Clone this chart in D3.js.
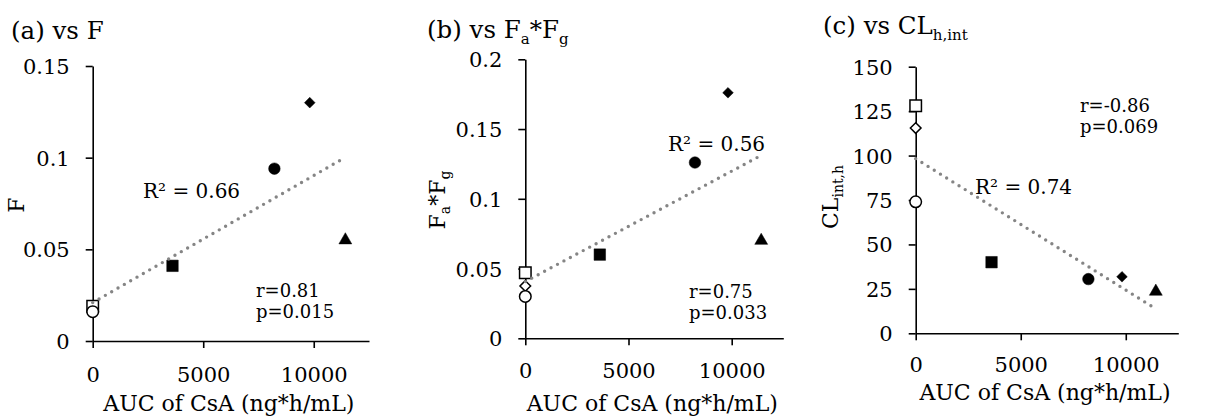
<!DOCTYPE html>
<html>
<head>
<meta charset="utf-8">
<script src="https://cdn.jsdelivr.net/npm/d3@7"></script>
<style>
  html, body { margin: 0; padding: 0; background: #fff; }
  svg { display: block; }
  text { font-family: "DejaVu Serif", "Liberation Serif", serif; fill: #000; }
</style>
</head>
<body>
<svg id="chart" width="1213" height="416"></svg>
<script>
// ---------- data ----------
const markerTypes = ["openSquare", "openDiamond", "openCircle", "square", "circle", "diamond", "triangle"];
const aucCsA = [0, 0, 0, 3610, 8220, 9820, 11430];
const valuesF = [0.019, null, 0.016, 0.041, 0.094, 0.130, 0.055];
const valuesFaFg = [0.047, 0.0375, 0.030, 0.060, 0.126, 0.176, 0.070];
const valuesCLint = [128, 115.5, 74, 40, 30.5, 31.8, 23.5];
const xTicks = [0, 5000, 10000];
const yTicksA = [0, 0.05, 0.1, 0.15];
const yTicksB = [0, 0.05, 0.1, 0.15, 0.2];
const yTicksC = [0, 25, 50, 75, 100, 125, 150];
const statsA = ["r=0.81", "p=0.015"];
const statsB = ["r=0.75", "p=0.033"];
const statsC = ["r=-0.86", "p=0.069"];
const r2A = "R² = 0.66", r2B = "R² = 0.56", r2C = "R² = 0.74";
const xMax = 12500;

// ---------- layout ----------
const panels = [
  { values: valuesF, yTicks: yTicksA, yMax: 0.15, x0: 92.7, x1: 369, y0: 341, y1: 66,
    title: [["(a) vs F", null]], titleX: 11, titleY: 39,
    ylab: [["F", null]], ylabX: 24, ylabY: 205,
    xlabY: 411, tickLabY: 382,
    r2: r2A, r2X: 143, r2Y: 198,
    stats: statsA, statsX: 256, statsY: 297 },
  { values: valuesFaFg, yTicks: yTicksB, yMax: 0.2, x0: 525.3, x1: 783.3, y0: 338.3, y1: 59.3,
    title: [["(b) vs F", null], ["a", "sub"], ["*F", null], ["g", "sub"]], titleX: 427, titleY: 38,
    ylab: [["F", null], ["a", "sub"], ["*F", null], ["g", "sub"]], ylabX: 445, ylabY: 200,
    xlabY: 411, tickLabY: 378,
    r2: r2B, r2X: 668, r2Y: 151,
    stats: statsB, statsX: 689, statsY: 298 },
  { values: valuesCLint, yTicks: yTicksC, yMax: 150, x0: 915.7, x1: 1178.3, y0: 333.3, y1: 66.7,
    title: [["(c) vs CL", null], ["h,int", "sub"]], titleX: 823, titleY: 34,
    ylab: [["CL", null], ["int,h", "sub"]], ylabX: 838, ylabY: 197,
    xlabY: 400, tickLabY: 372,
    r2: r2C, r2X: 975, r2Y: 194,
    stats: statsC, statsX: 1080, statsY: 112 }
];

const svg = d3.select("#chart");

function richText(sel, parts, subSize, shift) {
  let inSub = false;
  parts.forEach(([t, kind]) => {
    const ts = sel.append("tspan").text(t);
    if (kind === "sub") {
      ts.attr("font-size", subSize).attr("dy", shift);
      inSub = true;
    } else if (inSub) {
      ts.attr("dy", -shift);
      inSub = false;
    }
  });
}

function markerPath(type) {
  const base = type.replace("open", "").toLowerCase();
  const sym = { square: d3.symbolSquare, circle: d3.symbolCircle, diamond: d3.symbolDiamond2, triangle: d3.symbolTriangle }[base];
  const size = { square: 132, circle: 105, diamond: 72, triangle: 72 }[base];
  return d3.symbol().type(sym).size(size)();
}

panels.forEach(p => {
  const g = svg.append("g");
  const x = d3.scaleLinear().domain([0, xMax]).range([p.x0, p.x1]);
  const y = d3.scaleLinear().domain([0, p.yMax]).range([p.y0, p.y1]);

  // axes
  const xAxis = d3.axisBottom(x).tickValues(xTicks).tickSize(7).tickSizeOuter(0).tickFormat(d3.format("d"));
  const yAxis = d3.axisLeft(y).tickValues(p.yTicks).tickSize(7).tickSizeOuter(0).tickFormat(d => String(d));
  const gx = g.append("g").attr("transform", `translate(0,${p.y0})`).call(xAxis);
  const gy = g.append("g").attr("transform", `translate(${p.x0},0)`).call(yAxis);
  [gx, gy].forEach(a => {
    a.select(".domain").attr("stroke", "#000").attr("stroke-width", 1.6);
    a.selectAll(".tick line").attr("stroke", "#000").attr("stroke-width", 1.6);
    a.selectAll(".tick text").attr("font-family", "DejaVu Serif").attr("font-size", 21).attr("fill", "#000");
  });
  gx.selectAll(".tick text").attr("y", p.tickLabY - p.y0).attr("dy", 0);
  gy.selectAll(".tick text").attr("x", -23).attr("dy", "0.36em");

  // points
  const pts = aucCsA.map((a, i) => ({ x: a, y: p.values[i], type: markerTypes[i] })).filter(d => d.y !== null);
  g.selectAll("path.pt").data(pts).enter().append("path")
    .attr("class", "pt")
    .attr("d", d => markerPath(d.type))
    .attr("transform", d => `translate(${x(d.x)},${y(d.y)})`)
    .attr("fill", d => d.type.startsWith("open") ? "#fff" : "#000")
    .attr("stroke", "#000")
    .attr("stroke-width", d => d.type.startsWith("open") ? 1.5 : 0.5);

  // linear trendline (least squares over the plotted points)
  const mx = d3.mean(pts, d => d.x), my = d3.mean(pts, d => d.y);
  const sxy = d3.sum(pts, d => (d.x - mx) * (d.y - my));
  const sxx = d3.sum(pts, d => (d.x - mx) ** 2);
  const slope = sxy / sxx, icpt = my - slope * mx;
  const ext = d3.extent(pts, d => d.x);
  g.append("line")
    .attr("x1", x(ext[0])).attr("y1", y(icpt + slope * ext[0]))
    .attr("x2", x(ext[1])).attr("y2", y(icpt + slope * ext[1]))
    .attr("stroke", "#858585").attr("stroke-width", 3.4)
    .attr("stroke-linecap", "round").attr("stroke-dasharray", "0,7.3");

  // title
  const t = g.append("text").attr("x", p.titleX).attr("y", p.titleY).attr("font-size", 24.5);
  richText(t, p.title, 15, 6);

  // y label
  const yl = g.append("text")
    .attr("transform", `translate(${p.ylabX},${p.ylabY}) rotate(-90)`)
    .attr("text-anchor", "middle").attr("font-size", 22);
  richText(yl, p.ylab, 14, 5);

  // x label
  g.append("text").attr("x", (p.x0 + p.x1) / 2 - 2).attr("y", p.xlabY)
    .attr("text-anchor", "middle").attr("font-size", 22).text("AUC of CsA (ng*h/mL)");

  // R²
  g.append("text").attr("x", p.r2X).attr("y", p.r2Y).attr("font-size", 20).text(p.r2);

  // stats
  p.stats.forEach((s, i) => {
    g.append("text").attr("x", p.statsX).attr("y", p.statsY + i * 21).attr("font-size", 18).text(s);
  });
});
</script>
</body>
</html>
